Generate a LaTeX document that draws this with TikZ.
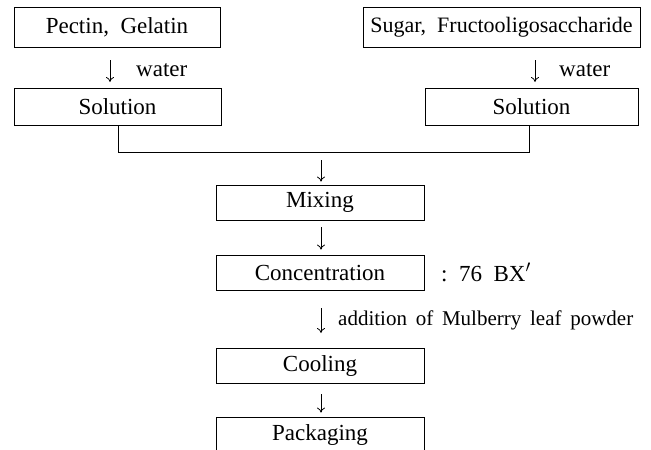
\documentclass[tikz,border=0pt]{standalone}
\usepackage{fontspec}
\setmainfont{Liberation Serif}
\usetikzlibrary{arrows.meta}
\begin{document}
\begin{tikzpicture}[x=1pt,y=-1pt,
  box/.style={draw,line width=0.8pt,inner sep=0pt,minimum height=35pt,font=\fontsize{23}{27}\selectfont},
  lbl/.style={inner sep=0pt,font=\fontsize{23}{27}\selectfont},
  conn/.style={line width=0.8pt},
  arr/.style={line width=0.8pt,-{To[length=5pt,width=8pt]}}]
\clip (0,0) rectangle (651,450);
\fill[white] (0,0) rectangle (651,450);
% boxes
\node[box,minimum width=206pt,minimum height=40pt] (pg) at (117,27.5) {Pectin,\enspace Gelatin};
\node[box,minimum width=207pt,minimum height=37pt] (sol1) at (117.5,106.5) {Solution};
\node[box,minimum width=277pt,minimum height=40pt,font=\fontsize{22}{27}\selectfont] (sf) at (501.5,27.5) {Sugar,\enspace Fructooligosaccharide};
\node[box,minimum width=213pt,minimum height=37pt] (sol2) at (531.5,106.5) {Solution};
\node[box,minimum width=208pt] (mix) at (320,202.5) {Mixing};
\node[box,minimum width=208pt] (conc) at (320,272.5) {Concentration};
\node[box,minimum width=208pt] (cool) at (320,365.5) {Cooling};
\node[box,minimum width=208pt,minimum height=40pt] (pack) at (320,437) {};
\node[lbl] (packt) at (320,435) {Packaging};
% labels
\node[lbl,anchor=west] (w1) at (136,70) {water};
\node[lbl,anchor=west] (w2) at (559,70) {water};
\node[lbl,anchor=west] (bx) at (441,272.5) {:\enspace 76\enspace BX$^{\prime}$};
\node[lbl,anchor=west,font=\fontsize{21}{26}\selectfont] (add) at (338,320) {addition\,\ of\,\ Mulberry\,\ leaf\,\ powder};
% arrows
\coordinate (a1s) at (110,60);
\coordinate (a1e) at (110,82);
\draw[arr] (a1s) -- (a1e);
\coordinate (a2s) at (535,60);
\coordinate (a2e) at (535,82);
\draw[arr] (a2s) -- (a2e);
% merge
\coordinate (jl) at (118,152);
\coordinate (jr) at (529,152);
\draw[conn] (sol1.south -| jl) -- (jl) -- (jr) -- (sol2.south -| jr);
\coordinate (a3s) at (321,160);
\draw[arr] (a3s) -- ([yshift=3pt]mix.north -| a3s);
\draw[arr] ([yshift=-7pt]mix.south -| a3s) -- ([yshift=5pt]conc.north -| a3s);
\coordinate (a5s) at (321,308);
\coordinate (a5e) at (321,333);
\draw[arr] (a5s) -- (a5e);
\draw[arr] ([yshift=-11pt]cool.south -| a3s) -- ([yshift=4pt]pack.north -| a3s);
\end{tikzpicture}
\end{document}
